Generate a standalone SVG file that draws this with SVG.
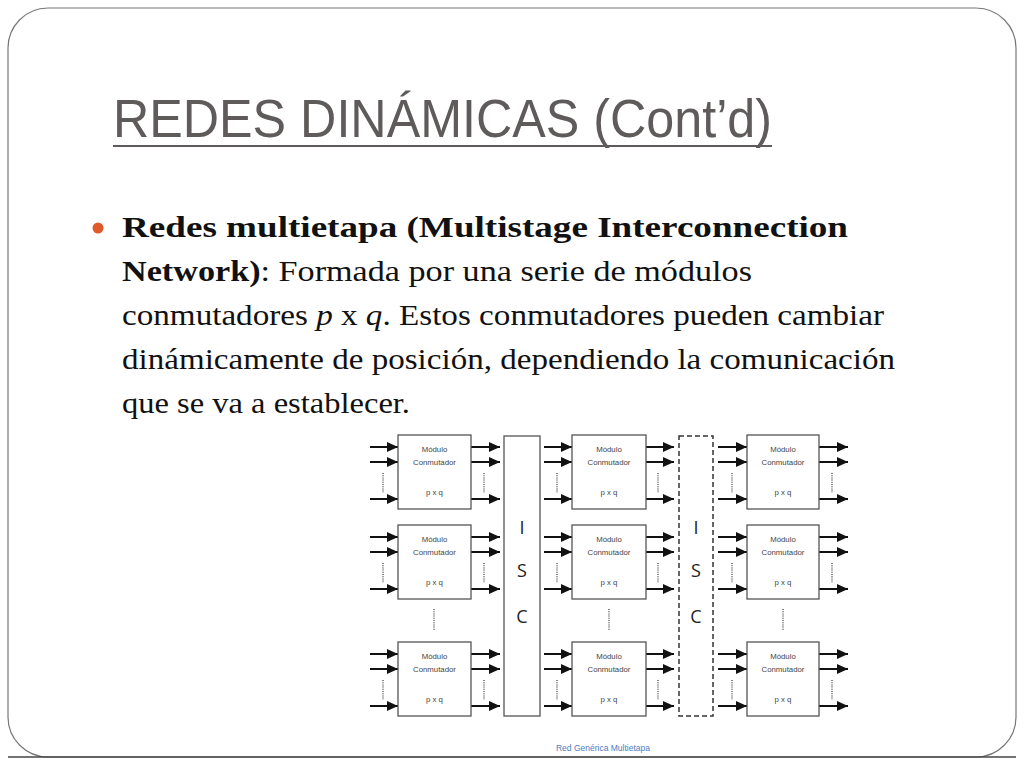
<svg xmlns="http://www.w3.org/2000/svg" width="1024" height="768" viewBox="0 0 1024 768">
<defs>
<marker id="ah" markerUnits="userSpaceOnUse" markerWidth="11" markerHeight="10" refX="11" refY="5" orient="auto">
<path d="M0,0 L11,5 L0,10 z" fill="#111"/>
</marker>
<style>
.box{fill:#fff;stroke:#555;stroke-width:1.3}
.ar{stroke:#111;stroke-width:2;fill:none;marker-end:url(#ah)}
.dot{stroke:#666;stroke-width:1.6;stroke-dasharray:1 1.2;fill:none}
.mt{font-family:"Liberation Sans",Arial,sans-serif;font-size:7.8px;fill:#444;text-anchor:middle}
.isc{font-family:"Open Sans","Liberation Sans",Arial,sans-serif;font-size:18px;fill:#222;text-anchor:middle}
.body{font-family:"Liberation Serif","Times New Roman",serif;font-size:30px;fill:#111}
</style>
</defs>
<rect x="0" y="0" width="1024" height="768" fill="#fff"/>
<rect x="8" y="8" width="1008" height="749" rx="40" ry="40" fill="#fff" stroke="#777" stroke-width="1.2"/>
<line x1="8" y1="757" x2="1016" y2="757" stroke="#444" stroke-width="1.5"/>

<text x="113" y="137" font-family="'Liberation Sans Narrow','Liberation Sans',Arial,sans-serif" font-size="54" fill="#5F5B5B" textLength="659" lengthAdjust="spacingAndGlyphs">REDES DINÁMICAS (Cont’d)</text>
<line x1="113" y1="146" x2="772" y2="146" stroke="#5F5B5B" stroke-width="2"/>

<circle cx="98" cy="228" r="5.5" fill="#E0592A"/>
<text class="body" x="122" y="237" font-weight="bold" textLength="726" lengthAdjust="spacingAndGlyphs">Redes multietapa (Multistage Interconnection</text>
<text class="body" x="122" y="281" textLength="630" lengthAdjust="spacingAndGlyphs"><tspan font-weight="bold">Network)</tspan>: Formada por una serie de módulos</text>
<text class="body" x="122" y="325" textLength="762" lengthAdjust="spacingAndGlyphs">conmutadores <tspan font-style="italic">p</tspan> x <tspan font-style="italic">q</tspan>. Estos conmutadores pueden cambiar</text>
<text class="body" x="122" y="369" textLength="773" lengthAdjust="spacingAndGlyphs">dinámicamente de posición, dependiendo la comunicación</text>
<text class="body" x="122" y="413" textLength="288" lengthAdjust="spacingAndGlyphs">que se va a establecer.</text>

<g id="isc1">
<rect x="504" y="436" width="36" height="280" fill="#fff" stroke="#555" stroke-width="1.3"/>
<text class="isc" x="522" y="534">I</text>
<text class="isc" x="522" y="577">S</text>
<text class="isc" x="522" y="623">C</text>
</g>
<g id="isc2">
<rect x="679" y="436" width="34" height="280" fill="#fff" stroke="#333" stroke-width="1.5" stroke-dasharray="5 3"/>
<text class="isc" x="696" y="534">I</text>
<text class="isc" x="696" y="577">S</text>
<text class="isc" x="696" y="623">C</text>
</g>

<g id="connectors">
<g transform="translate(398,435)">
<line class="ar" x1="-28" y1="12" x2="0" y2="12"/><line class="ar" x1="-28" y1="27" x2="0" y2="27"/><line class="ar" x1="-28" y1="64" x2="0" y2="64"/>
<line class="ar" x1="73" y1="12" x2="102" y2="12"/><line class="ar" x1="73" y1="27" x2="102" y2="27"/><line class="ar" x1="73" y1="64" x2="102" y2="64"/>
<line class="dot" x1="-15" y1="38" x2="-15" y2="58"/><line class="dot" x1="86" y1="38" x2="86" y2="58"/>
</g>
<g transform="translate(398,525)">
<line class="ar" x1="-28" y1="12" x2="0" y2="12"/><line class="ar" x1="-28" y1="27" x2="0" y2="27"/><line class="ar" x1="-28" y1="64" x2="0" y2="64"/>
<line class="ar" x1="73" y1="12" x2="102" y2="12"/><line class="ar" x1="73" y1="27" x2="102" y2="27"/><line class="ar" x1="73" y1="64" x2="102" y2="64"/>
<line class="dot" x1="-15" y1="38" x2="-15" y2="58"/><line class="dot" x1="86" y1="38" x2="86" y2="58"/>
<line class="dot" x1="36" y1="84" x2="36" y2="106"/>
</g>
<g transform="translate(398,642)">
<line class="ar" x1="-28" y1="12" x2="0" y2="12"/><line class="ar" x1="-28" y1="27" x2="0" y2="27"/><line class="ar" x1="-28" y1="64" x2="0" y2="64"/>
<line class="ar" x1="73" y1="12" x2="102" y2="12"/><line class="ar" x1="73" y1="27" x2="102" y2="27"/><line class="ar" x1="73" y1="64" x2="102" y2="64"/>
<line class="dot" x1="-15" y1="38" x2="-15" y2="58"/><line class="dot" x1="86" y1="38" x2="86" y2="58"/>
</g>
<g transform="translate(572,435)">
<line class="ar" x1="-28" y1="12" x2="0" y2="12"/><line class="ar" x1="-28" y1="27" x2="0" y2="27"/><line class="ar" x1="-28" y1="64" x2="0" y2="64"/>
<line class="ar" x1="74" y1="12" x2="102" y2="12"/><line class="ar" x1="74" y1="27" x2="102" y2="27"/><line class="ar" x1="74" y1="64" x2="102" y2="64"/>
<line class="dot" x1="-15" y1="38" x2="-15" y2="58"/><line class="dot" x1="86" y1="38" x2="86" y2="58"/>
</g>
<g transform="translate(572,525)">
<line class="ar" x1="-28" y1="12" x2="0" y2="12"/><line class="ar" x1="-28" y1="27" x2="0" y2="27"/><line class="ar" x1="-28" y1="64" x2="0" y2="64"/>
<line class="ar" x1="74" y1="12" x2="102" y2="12"/><line class="ar" x1="74" y1="27" x2="102" y2="27"/><line class="ar" x1="74" y1="64" x2="102" y2="64"/>
<line class="dot" x1="-15" y1="38" x2="-15" y2="58"/><line class="dot" x1="86" y1="38" x2="86" y2="58"/>
<line class="dot" x1="37" y1="84" x2="37" y2="106"/>
</g>
<g transform="translate(572,642)">
<line class="ar" x1="-28" y1="12" x2="0" y2="12"/><line class="ar" x1="-28" y1="27" x2="0" y2="27"/><line class="ar" x1="-28" y1="64" x2="0" y2="64"/>
<line class="ar" x1="74" y1="12" x2="102" y2="12"/><line class="ar" x1="74" y1="27" x2="102" y2="27"/><line class="ar" x1="74" y1="64" x2="102" y2="64"/>
<line class="dot" x1="-15" y1="38" x2="-15" y2="58"/><line class="dot" x1="86" y1="38" x2="86" y2="58"/>
</g>
<g transform="translate(747,435)">
<line class="ar" x1="-29" y1="12" x2="0" y2="12"/><line class="ar" x1="-29" y1="27" x2="0" y2="27"/><line class="ar" x1="-29" y1="64" x2="0" y2="64"/>
<line class="ar" x1="72" y1="12" x2="101" y2="12"/><line class="ar" x1="72" y1="27" x2="101" y2="27"/><line class="ar" x1="72" y1="64" x2="101" y2="64"/>
<line class="dot" x1="-15" y1="38" x2="-15" y2="58"/><line class="dot" x1="85" y1="38" x2="85" y2="58"/>
</g>
<g transform="translate(747,525)">
<line class="ar" x1="-29" y1="12" x2="0" y2="12"/><line class="ar" x1="-29" y1="27" x2="0" y2="27"/><line class="ar" x1="-29" y1="64" x2="0" y2="64"/>
<line class="ar" x1="72" y1="12" x2="101" y2="12"/><line class="ar" x1="72" y1="27" x2="101" y2="27"/><line class="ar" x1="72" y1="64" x2="101" y2="64"/>
<line class="dot" x1="-15" y1="38" x2="-15" y2="58"/><line class="dot" x1="85" y1="38" x2="85" y2="58"/>
<line class="dot" x1="36" y1="84" x2="36" y2="106"/>
</g>
<g transform="translate(747,642)">
<line class="ar" x1="-29" y1="12" x2="0" y2="12"/><line class="ar" x1="-29" y1="27" x2="0" y2="27"/><line class="ar" x1="-29" y1="64" x2="0" y2="64"/>
<line class="ar" x1="72" y1="12" x2="101" y2="12"/><line class="ar" x1="72" y1="27" x2="101" y2="27"/><line class="ar" x1="72" y1="64" x2="101" y2="64"/>
<line class="dot" x1="-15" y1="38" x2="-15" y2="58"/><line class="dot" x1="85" y1="38" x2="85" y2="58"/>
</g>
</g>

<g id="m11"><rect class="box" x="398" y="435" width="73" height="74"/><text class="mt" x="434.5" y="452">Módulo</text><text class="mt" x="434.5" y="465">Conmutador</text><text class="mt" x="434.5" y="495">p x q</text></g>
<g id="m21"><rect class="box" x="398" y="525" width="73" height="74"/><text class="mt" x="434.5" y="542">Módulo</text><text class="mt" x="434.5" y="555">Conmutador</text><text class="mt" x="434.5" y="585">p x q</text></g>
<g id="m31"><rect class="box" x="398" y="642" width="73" height="74"/><text class="mt" x="434.5" y="659">Módulo</text><text class="mt" x="434.5" y="672">Conmutador</text><text class="mt" x="434.5" y="702">p x q</text></g>
<g id="m12"><rect class="box" x="572" y="435" width="74" height="74"/><text class="mt" x="609" y="452">Módulo</text><text class="mt" x="609" y="465">Conmutador</text><text class="mt" x="609" y="495">p x q</text></g>
<g id="m22"><rect class="box" x="572" y="525" width="74" height="74"/><text class="mt" x="609" y="542">Módulo</text><text class="mt" x="609" y="555">Conmutador</text><text class="mt" x="609" y="585">p x q</text></g>
<g id="m32"><rect class="box" x="572" y="642" width="74" height="74"/><text class="mt" x="609" y="659">Módulo</text><text class="mt" x="609" y="672">Conmutador</text><text class="mt" x="609" y="702">p x q</text></g>
<g id="m13"><rect class="box" x="747" y="435" width="72" height="74"/><text class="mt" x="783" y="452">Módulo</text><text class="mt" x="783" y="465">Conmutador</text><text class="mt" x="783" y="495">p x q</text></g>
<g id="m23"><rect class="box" x="747" y="525" width="72" height="74"/><text class="mt" x="783" y="542">Módulo</text><text class="mt" x="783" y="555">Conmutador</text><text class="mt" x="783" y="585">p x q</text></g>
<g id="m33"><rect class="box" x="747" y="642" width="72" height="74"/><text class="mt" x="783" y="659">Módulo</text><text class="mt" x="783" y="672">Conmutador</text><text class="mt" x="783" y="702">p x q</text></g>

<text x="603" y="751" font-family="'Liberation Sans',Arial,sans-serif" font-size="8.5" fill="#4F7CC0" text-anchor="middle">Red Genérica Multietapa</text>
</svg>
